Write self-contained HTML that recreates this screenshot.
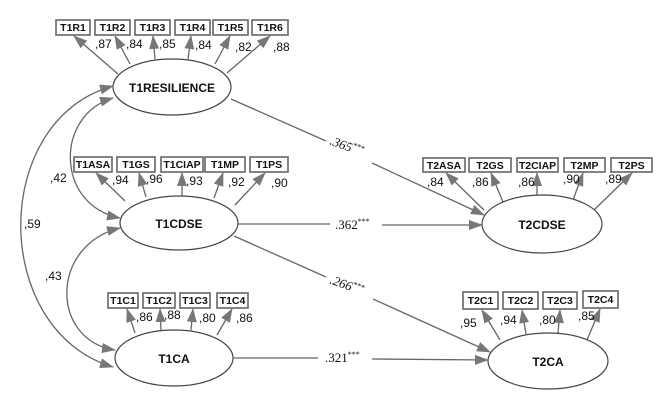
<!DOCTYPE html>
<html><head><meta charset="utf-8"><style>
html,body{margin:0;padding:0;background:#fff;}
svg{display:block;font-family:"Liberation Sans",Arial,sans-serif;}
.b{fill:#fff;stroke:#666;stroke-width:1.6;}
.bt{font-size:10.5px;fill:#111;text-anchor:middle;font-weight:600;}
.l{font-size:12px;fill:#111;}
.e{fill:#fff;stroke:#444;stroke-width:1.2;}
.et{font-size:12px;font-weight:bold;fill:#111;text-anchor:middle;}
.p{stroke:#666;stroke-width:1.3;fill:none;}
.c{font-family:"Liberation Serif",serif;font-size:13px;fill:#111;font-style:italic;}
.cn{font-family:"Liberation Serif",serif;font-size:13px;fill:#111;}
</style></head><body>
<svg width="669" height="403" viewBox="0 0 669 403">
<defs>
<marker id="a" viewBox="0 0 14 10" refX="13" refY="5" markerWidth="14" markerHeight="10" markerUnits="userSpaceOnUse" orient="auto-start-reverse">
<path d="M0,0 L14,5 L0,10 Z" fill="#777"/></marker>
</defs>

<g>
<rect class="b" x="56" y="20" width="34" height="15"/><text class="bt" x="73" y="31">T1R1</text>
<rect class="b" x="95" y="20" width="35" height="15"/><text class="bt" x="112.5" y="31">T1R2</text>
<rect class="b" x="135" y="20" width="35" height="15"/><text class="bt" x="152.5" y="31">T1R3</text>
<rect class="b" x="175" y="20" width="35" height="15"/><text class="bt" x="192.5" y="31">T1R4</text>
<rect class="b" x="213" y="20" width="35" height="15"/><text class="bt" x="230.5" y="31">T1R5</text>
<rect class="b" x="252" y="20" width="36" height="15"/><text class="bt" x="270" y="31">T1R6</text>
</g>
<path class="p" d="M118,74 L74,36" marker-end="url(#a)"/>
<path class="p" d="M130,64 L115,36" marker-end="url(#a)"/>
<path class="p" d="M155,59 L153,36" marker-end="url(#a)"/>
<path class="p" d="M188,59 L191,36" marker-end="url(#a)"/>
<path class="p" d="M215,64 L230,36" marker-end="url(#a)"/>
<path class="p" d="M227,73 L270,36" marker-end="url(#a)"/>
<text class="l" x="95" y="48">,87</text><text class="l" x="126" y="48">,84</text>
<text class="l" x="159" y="48">,85</text><text class="l" x="195" y="49">,84</text>
<text class="l" x="235" y="51">,82</text><text class="l" x="273" y="51">,88</text>
<ellipse class="e" cx="172" cy="87" rx="59" ry="28"/>
<text class="et" x="172" y="92">T1RESILIENCE</text>

<rect class="b" x="74" y="157" width="38" height="15"/><text class="bt" x="93" y="168">T1ASA</text>
<rect class="b" x="117" y="157" width="38" height="15"/><text class="bt" x="136" y="168">T1GS</text>
<rect class="b" x="161" y="157" width="42" height="15"/><text class="bt" x="182" y="168">T1CIAP</text>
<rect class="b" x="205" y="157" width="40" height="15"/><text class="bt" x="225" y="168">T1MP</text>
<rect class="b" x="250" y="157" width="38" height="15"/><text class="bt" x="269" y="168">T1PS</text>
<path class="p" d="M125,201 L96,173" marker-end="url(#a)"/>
<path class="p" d="M146,197 L139,173" marker-end="url(#a)"/>
<path class="p" d="M182,196 L182,173" marker-end="url(#a)"/>
<path class="p" d="M214,198 L223,173" marker-end="url(#a)"/>
<path class="p" d="M235,205 L265,173" marker-end="url(#a)"/>
<text class="l" x="112" y="184">,94</text><text class="l" x="146" y="183">,96</text>
<text class="l" x="186" y="185">,93</text><text class="l" x="228" y="186">,92</text>
<text class="l" x="271" y="187">,90</text>
<ellipse class="e" cx="179" cy="223" rx="59" ry="27"/>
<text class="et" x="179" y="228">T1CDSE</text>

<rect class="b" x="108" y="293" width="30" height="15"/><text class="bt" x="123" y="304">T1C1</text>
<rect class="b" x="143" y="293" width="32" height="15"/><text class="bt" x="159" y="304">T1C2</text>
<rect class="b" x="180" y="293" width="30" height="15"/><text class="bt" x="195" y="304">T1C3</text>
<rect class="b" x="217" y="293" width="31" height="15"/><text class="bt" x="232.5" y="304">T1C4</text>
<path class="p" d="M135,333 L127,309" marker-end="url(#a)"/>
<path class="p" d="M161,330 L160,309" marker-end="url(#a)"/>
<path class="p" d="M191,330 L193,309" marker-end="url(#a)"/>
<path class="p" d="M217,335 L232,309" marker-end="url(#a)"/>
<text class="l" x="136" y="321">,86</text><text class="l" x="164" y="319">,88</text>
<text class="l" x="199" y="322">,80</text><text class="l" x="236" y="322">,86</text>
<ellipse class="e" cx="174" cy="358" rx="59" ry="28"/>
<text class="et" x="174" y="363">T1CA</text>

<path class="p" d="M113,86 C-10,120 -10,330 113,367" marker-start="url(#a)" marker-end="url(#a)"/>
<path class="p" d="M113,98 C55,115 55,205 120,218" marker-start="url(#a)" marker-end="url(#a)"/>
<path class="p" d="M120,228 C50,245 50,340 115,350" marker-start="url(#a)" marker-end="url(#a)"/>
<text class="l" x="24" y="228">,59</text>
<text class="l" x="50" y="182">,42</text>
<text class="l" x="45" y="280">,43</text>

<rect class="b" x="423" y="158" width="42" height="14"/><text class="bt" x="444" y="169">T2ASA</text>
<rect class="b" x="469" y="158" width="42" height="14"/><text class="bt" x="490" y="169">T2GS</text>
<rect class="b" x="517" y="158" width="41" height="14"/><text class="bt" x="537.5" y="169">T2CIAP</text>
<rect class="b" x="564" y="158" width="41" height="14"/><text class="bt" x="584.5" y="169">T2MP</text>
<rect class="b" x="611" y="158" width="41" height="14"/><text class="bt" x="631.5" y="169">T2PS</text>
<path class="p" d="M484,210 L446,173" marker-end="url(#a)"/>
<path class="p" d="M503,202 L491,173" marker-end="url(#a)"/>
<path class="p" d="M537,196 L537,173" marker-end="url(#a)"/>
<path class="p" d="M573,200 L583,173" marker-end="url(#a)"/>
<path class="p" d="M594,210 L632,173" marker-end="url(#a)"/>
<text class="l" x="427" y="186">,84</text><text class="l" x="472" y="186">,86</text>
<text class="l" x="518" y="186">,86</text><text class="l" x="563" y="183">,90</text>
<text class="l" x="605" y="183">,89</text>
<ellipse class="e" cx="542" cy="224" rx="60" ry="29"/>
<text class="et" x="542" y="229">T2CDSE</text>

<rect class="b" x="463" y="292" width="35" height="17"/><text class="bt" x="480.5" y="304">T2C1</text>
<rect class="b" x="503" y="292" width="35" height="17"/><text class="bt" x="520.5" y="304">T2C2</text>
<rect class="b" x="543" y="292" width="34" height="17"/><text class="bt" x="560" y="304">T2C3</text>
<rect class="b" x="583" y="291" width="35" height="17"/><text class="bt" x="600.5" y="303">T2C4</text>
<path class="p" d="M500,340 L482,310" marker-end="url(#a)"/>
<path class="p" d="M526,334 L522,310" marker-end="url(#a)"/>
<path class="p" d="M558,333 L560,310" marker-end="url(#a)"/>
<path class="p" d="M587,340 L600,309" marker-end="url(#a)"/>
<text class="l" x="460" y="327">,95</text><text class="l" x="500" y="324">,94</text>
<text class="l" x="539" y="324">,80</text><text class="l" x="578" y="320">,85</text>
<ellipse class="e" cx="548" cy="361" rx="60" ry="28"/>
<text class="et" x="548" y="366">T2CA</text>

<path class="p" d="M231,99 L326,141"/>
<path class="p" d="M372,163 L484,215" marker-end="url(#a)"/>
<text class="c" x="328" y="150" transform="rotate(20 345 150)">.365<tspan font-size="8" dy="-5">***</tspan></text>

<path class="p" d="M238,224 L330,224"/>
<path class="p" d="M382,225 L482,225" marker-end="url(#a)"/>
<text class="cn" x="335" y="229">.362<tspan font-size="8" dy="-5">***</tspan></text>

<path class="p" d="M234,236 L326,277"/>
<path class="p" d="M373,299 L490,352" marker-end="url(#a)"/>
<text class="c" x="328" y="289" transform="rotate(20 345 289)">.266<tspan font-size="8" dy="-5">***</tspan></text>

<path class="p" d="M233,358 L318,358"/>
<path class="p" d="M372,359 L488,360" marker-end="url(#a)"/>
<text class="cn" x="325" y="362">.321<tspan font-size="8" dy="-5">***</tspan></text>
</svg>
</body></html>
